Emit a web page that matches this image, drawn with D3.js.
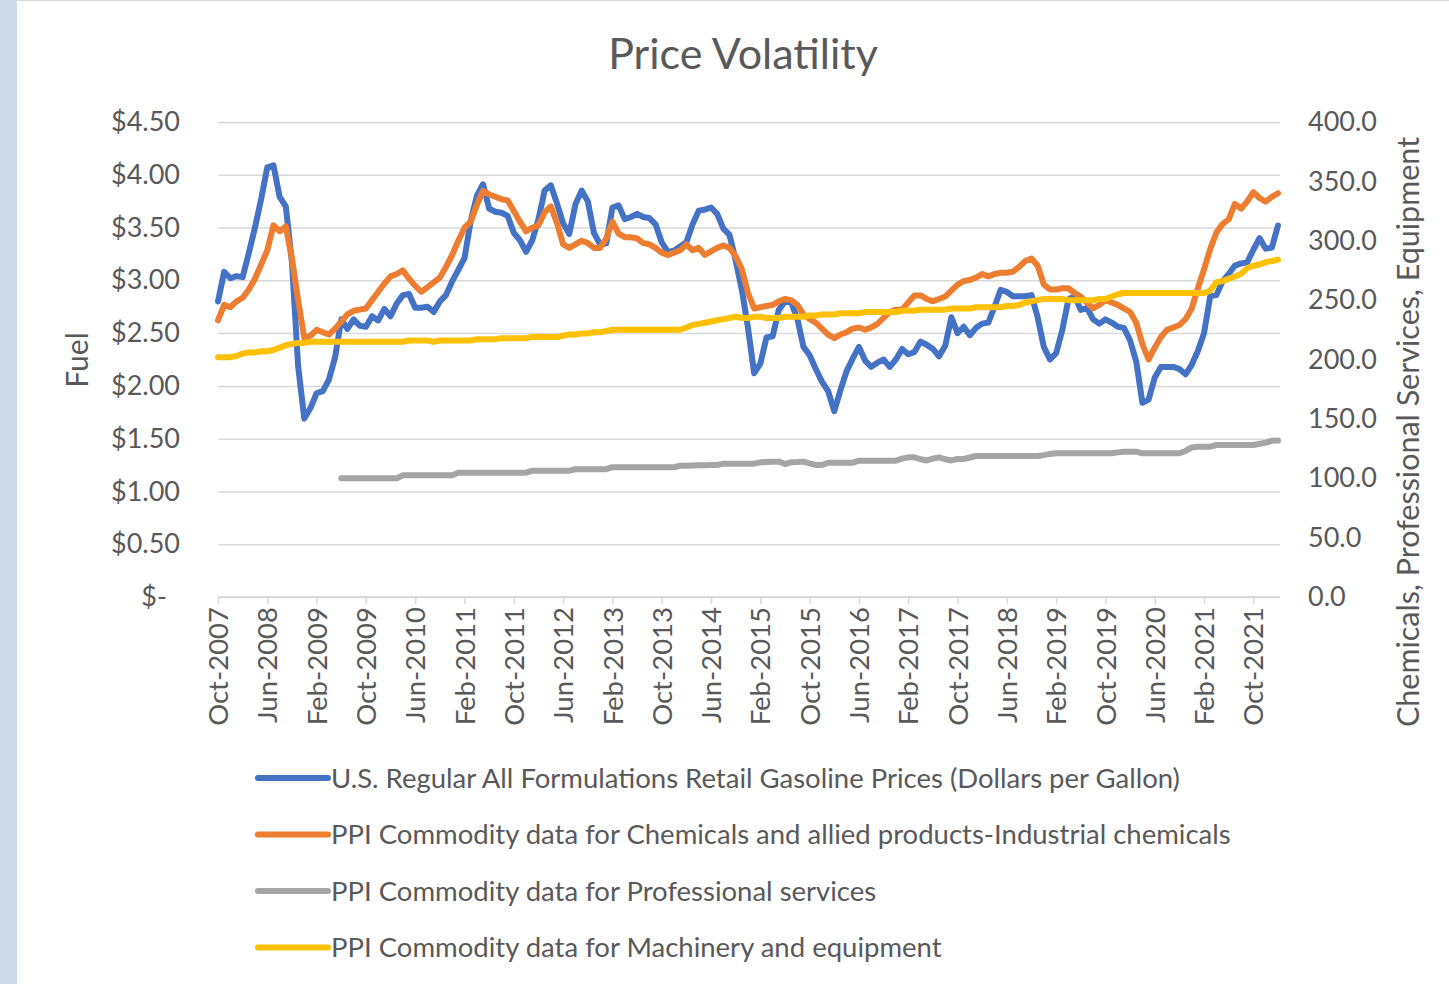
<!DOCTYPE html>
<html>
<head>
<meta charset="utf-8">
<script src="https://cdn.jsdelivr.net/npm/d3@7"></script>
<style>
  body { margin: 0; background: #fff; }
  svg text { font-family: Lato, "Open Sans", sans-serif; fill: #595959; }
</style>
</head>
<body>
<svg width="1449" height="984"></svg>
<script>
// monthly, Oct-2007 .. Feb-2022
var months = d3.timeMonth.range(new Date(2007, 9, 1), new Date(2022, 2, 1)).map(d3.timeFormat("%b-%Y"));

var tickLabels = ["Oct-2007", "Jun-2008", "Feb-2009", "Oct-2009", "Jun-2010", "Feb-2011", "Oct-2011",
  "Jun-2012", "Feb-2013", "Oct-2013", "Jun-2014", "Feb-2015", "Oct-2015", "Jun-2016", "Feb-2017",
  "Oct-2017", "Jun-2018", "Feb-2019", "Oct-2019", "Jun-2020", "Feb-2021", "Oct-2021"];

var gasoline = [
  2.80, 3.08, 3.02,
  3.04, 3.03, 3.26, 3.50, 3.77, 4.07, 4.09, 3.79, 3.70, 3.17, 2.19, 1.69,
  1.79, 1.93, 1.95, 2.06, 2.27, 2.63, 2.54, 2.63, 2.57, 2.56, 2.66, 2.62,
  2.73, 2.66, 2.78, 2.86, 2.87, 2.74, 2.74, 2.75, 2.70, 2.80, 2.86, 2.99,
  3.10, 3.21, 3.56, 3.80, 3.91, 3.68, 3.65, 3.64, 3.61, 3.45, 3.38, 3.27,
  3.38, 3.58, 3.85, 3.90, 3.73, 3.54, 3.44, 3.72, 3.85, 3.75, 3.45, 3.34,
  3.35, 3.69, 3.71, 3.58, 3.60, 3.63, 3.60, 3.59, 3.53, 3.36, 3.27, 3.28,
  3.32, 3.36, 3.53, 3.66, 3.67, 3.69, 3.63, 3.49, 3.43, 3.19, 2.91, 2.55,
  2.12, 2.21, 2.46, 2.47, 2.72, 2.80, 2.79, 2.64, 2.37, 2.29, 2.16, 2.04,
  1.95, 1.76, 1.96, 2.14, 2.26, 2.37, 2.24, 2.18, 2.22, 2.25, 2.18, 2.25,
  2.35, 2.30, 2.32, 2.42, 2.39, 2.35, 2.28, 2.38, 2.65, 2.50, 2.56, 2.48,
  2.55, 2.59, 2.60, 2.75, 2.91, 2.89, 2.85, 2.85, 2.85, 2.86, 2.65, 2.37,
  2.25, 2.31, 2.53, 2.82, 2.85, 2.72, 2.74, 2.63, 2.59, 2.63, 2.60, 2.56,
  2.55, 2.43, 2.23, 1.84, 1.87, 2.08, 2.18, 2.18, 2.18, 2.16, 2.11, 2.20,
  2.33, 2.50, 2.85, 2.86, 2.99, 3.06, 3.14, 3.16, 3.17, 3.29, 3.40, 3.30,
  3.31, 3.52
];

var chemicals = [
  233, 246, 244,
  249, 252, 259, 268, 280, 292, 313, 308, 312, 285, 250, 218,
  220, 225, 223, 221, 226, 232, 238, 241, 242, 243, 250, 257,
  264, 270, 272, 275, 268, 262, 257, 261, 265, 269, 278, 288,
  300, 311, 316, 330, 342, 339, 337, 335, 334, 325, 316, 308,
  311, 313, 324, 329, 315, 297, 294, 297, 300, 298, 294, 294,
  302, 316, 306, 303, 303, 302, 298, 297, 294, 290, 288, 290,
  292, 297, 292, 294, 288, 291, 294, 296, 294, 287, 276, 256,
  243, 244, 245, 246, 249, 251, 250, 246, 238, 234, 231, 226,
  221, 218, 221, 223, 226, 227, 225, 227, 230, 235, 240, 242,
  242, 248, 254, 254, 251, 249, 251, 253, 258, 263, 266, 267,
  269, 272, 270, 272, 273, 273, 274, 278, 283, 285, 279, 263,
  259, 259, 260, 260, 256, 253, 248, 243, 246, 250, 248, 246,
  243, 240, 231, 213, 200, 210, 219, 225, 227, 229, 234, 243,
  260, 276, 293, 307, 314, 318, 331, 327, 333, 341, 336, 333,
  337, 340
];

var services = [
  null, null, null,
  null, null, null, null, null, null, null, null, null, null, null, null,
  null, null, null, null, null, 100, 100, 100, 100, 100, 100, 100,
  100, 100, 100, 102.5, 102.5, 102.5, 102.5, 102.5, 102.5, 102.5, 102.5, 102.5,
  104.7, 104.7, 104.7, 104.7, 104.7, 104.7, 104.7, 104.7, 104.7, 104.7, 104.7, 104.7,
  106.4, 106.4, 106.4, 106.4, 106.4, 106.4, 106.4, 107.6, 107.6, 107.6, 107.6, 107.6,
  107.6, 109.3, 109.3, 109.3, 109.3, 109.3, 109.3, 109.3, 109.3, 109.3, 109.3, 109.3,
  110.5, 110.6, 110.8, 110.9, 111.0, 111.1, 111.2, 112.3, 112.3, 112.3, 112.3, 112.3,
  112.3, 113.4, 113.6, 113.8, 114.0, 112.0, 113.4, 113.6, 114.0, 112.5, 111.2, 111.2,
  113.1, 113.1, 113.1, 113.1, 113.1, 114.8, 114.8, 114.8, 114.8, 114.8, 114.8, 114.8,
  116.5, 117.6, 117.6, 116.0, 115.0, 116.5, 117.6, 116.0, 115.0, 116.2, 116.2, 117.5,
  118.7, 118.7, 118.7, 118.7, 118.7, 118.7, 118.7, 118.7, 118.7, 118.7, 118.7, 119.5,
  120.5, 121.0, 121.0, 121.0, 121.0, 121.0, 121.0, 121.0, 121.0, 121.0, 121.0, 121.8,
  122.4, 122.4, 122.4, 121.0, 121.0, 121.0, 121.0, 121.0, 121.0, 121.0, 123.0, 126.0,
  126.6, 126.6, 126.6, 128.0, 128.0, 128.0, 128.0, 128.0, 128.0, 128.0, 129.0, 130.0,
  131.5, 131.7
];

var machinery = [
  202, 202, 202,
  203, 205, 206, 206, 207, 207, 208, 210, 212, 213, 214, 214,
  215, 215, 215, 215, 215, 215, 215, 215, 215, 215, 215, 215,
  215, 215, 215, 215, 216, 216, 216, 216, 215, 216, 216, 216,
  216, 216, 216, 217, 217, 217, 217, 218, 218, 218, 218, 218,
  219, 219, 219, 219, 219, 220, 221, 221, 222, 222, 223, 223,
  224, 225, 225, 225, 225, 225, 225, 225, 225, 225, 225, 225,
  225, 227, 229, 230, 231, 232, 233, 234, 235, 236, 235, 235,
  236, 236, 235, 235, 235, 236, 236, 236, 236, 237, 237, 238,
  238, 238, 239, 239, 239, 239, 240, 240, 240, 240, 240, 240,
  241, 241, 241, 242, 242, 242, 242, 242, 243, 243, 243, 243,
  244, 244, 244, 244, 244, 245, 245, 246, 248, 249, 250, 251,
  251, 251, 251, 250, 250, 250, 250, 250, 251, 251, 253, 255,
  256, 256, 256, 256, 256, 256, 256, 256, 256, 256, 256, 256,
  256, 256, 258, 265, 266, 268, 270, 272, 277, 279, 280, 282,
  283, 284
];

var series = [
  {name: "U.S. Regular All Formulations Retail Gasoline Prices (Dollars per Gallon)", values: gasoline, axis: "left", color: "#4472c4"},
  {name: "PPI Commodity data for Chemicals and allied products-Industrial chemicals", values: chemicals, axis: "right", color: "#ed7d31"},
  {name: "PPI Commodity data for Professional services", values: services, axis: "right", color: "#a5a5a5"},
  {name: "PPI Commodity data for Machinery and equipment", values: machinery, axis: "right", color: "#ffc000"}
];

var svg = d3.select("svg");
var plot = {left: 218, right: 1278, top: 122, bottom: 597};

// frame bits of the screenshot
svg.append("rect").attr("x", 0).attr("y", 0).attr("width", 17).attr("height", 984).attr("fill", "#cddbe8");
svg.append("line").attr("x1", 17).attr("x2", 1449).attr("y1", 0.5).attr("y2", 0.5).attr("stroke", "#d9d9d9");

var x = d3.scalePoint().domain(months).range([plot.left, plot.right]);
var yL = d3.scaleLinear().domain([0, 4.5]).range([plot.bottom, plot.top]);
var yR = d3.scaleLinear().domain([0, 400]).range([plot.bottom, plot.top]);

// gridlines (primary axis)
svg.append("g")
    .attr("transform", "translate(" + plot.left + ",0)")
    .call(d3.axisLeft(yL).tickValues(d3.range(0, 4.51, 0.5)).tickSize(-(plot.right + 2 - plot.left)).tickFormat(""))
    .call(function(g) {
      g.select(".domain").remove();
      g.selectAll("line").attr("stroke", "#d9d9d9").attr("stroke-width", 1.5);
    });

// left tick labels
var leftAxis = svg.append("g")
    .attr("transform", "translate(" + (plot.left - 35) + ",0)")
    .call(d3.axisLeft(yL).tickValues(d3.range(0, 4.51, 0.5)).tickSize(0)
      .tickFormat(function(d) { return d === 0 ? "$-" : "$" + d3.format(".2f")(d); }));
leftAxis.select(".domain").remove();
leftAxis.selectAll("text")
    .attr("font-size", 27)
    .attr("dx", function(d) { return d === 0 ? -13 : 0; });

// right tick labels
var rightAxis = svg.append("g")
    .attr("transform", "translate(" + (plot.right + 30) + ",0)")
    .call(d3.axisRight(yR).tickValues(d3.range(0, 401, 50)).tickSize(0).tickFormat(d3.format(".1f")));
rightAxis.select(".domain").remove();
rightAxis.selectAll("text").attr("font-size", 27).attr("x", 0);

// x axis
var xAxis = svg.append("g")
    .attr("transform", "translate(0," + plot.bottom + ")")
    .call(d3.axisBottom(x).tickValues(tickLabels).tickSize(7).tickSizeOuter(0));
xAxis.select(".domain").attr("stroke", "#d9d9d9").attr("stroke-width", 2)
    .attr("d", "M" + plot.left + ",0H" + (plot.right + 2));
xAxis.selectAll(".tick line").attr("stroke", "#d9d9d9").attr("stroke-width", 1.5);
xAxis.selectAll(".tick text")
    .attr("font-size", 27.5)
    .attr("text-anchor", "end")
    .attr("transform", "rotate(-90)")
    .attr("x", -10)
    .attr("y", 0)
    .attr("dy", "0.35em")
    .attr("dx", 0);

// lines
series.forEach(function(s) {
  var yS = s.axis === "left" ? yL : yR;
  var line = d3.line()
      .defined(function(d) { return d != null; })
      .x(function(d, i) { return x(months[i]); })
      .y(function(d) { return yS(d); });
  svg.append("path")
      .datum(s.values)
      .attr("fill", "none")
      .attr("stroke", s.color)
      .attr("stroke-width", 6)
      .attr("stroke-linejoin", "round")
      .attr("stroke-linecap", "round")
      .attr("d", line);
});

// title
svg.append("text")
    .attr("x", 743).attr("y", 69)
    .attr("text-anchor", "middle")
    .attr("font-size", 43)
    .text("Price Volatility");

// axis titles
svg.append("text")
    .attr("transform", "translate(88,360) rotate(-90)")
    .attr("text-anchor", "middle")
    .attr("font-size", 30)
    .text("Fuel");
svg.append("text")
    .attr("transform", "translate(1419,432) rotate(-90)")
    .attr("text-anchor", "middle")
    .attr("font-size", 30.5)
    .text("Chemicals, Professional Services, Equipment");

// legend
var legend = svg.append("g").selectAll("g")
    .data(series)
    .enter().append("g")
      .attr("transform", function(d, i) { return "translate(258," + (778 + i * 56.5) + ")"; });
legend.append("line")
    .attr("x1", 0).attr("x2", 70)
    .attr("stroke", function(d) { return d.color; })
    .attr("stroke-width", 6)
    .attr("stroke-linecap", "round");
legend.append("text")
    .attr("x", 73).attr("dy", "0.35em")
    .attr("font-size", 27.5)
    .text(function(d) { return d.name; });
</script>
</body>
</html>
